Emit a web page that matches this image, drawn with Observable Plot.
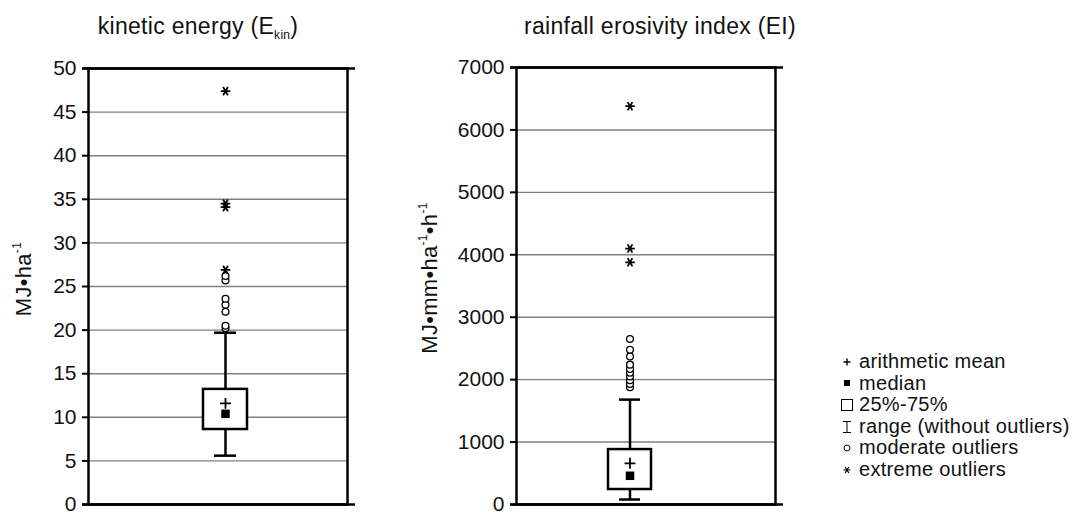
<!DOCTYPE html>
<html><head><meta charset="utf-8">
<script src="https://cdn.jsdelivr.net/npm/d3@7"></script>
<script src="https://cdn.jsdelivr.net/npm/@observablehq/plot@0.6"></script>
<style>
body{margin:0;background:#fff;font-family:"Liberation Sans",Arial,sans-serif;color:#111;}
#root{position:relative;width:1078px;height:512px;overflow:hidden;background:#fff;}
.abs{position:absolute;white-space:nowrap;}
.title{font-size:23px;letter-spacing:0.3px;transform:translate(-50%,-50%);}
.title sub{font-size:12px;vertical-align:-5px;line-height:0;}
.ylab{font-size:22px;letter-spacing:0.3px;transform:translate(-50%,-50%) rotate(-90deg);}
.ylab sup{font-size:12px;vertical-align:10px;line-height:0;}
.legend{font-size:20px;line-height:21.6px;letter-spacing:0.3px;}
.legend div{display:flex;align-items:center;height:21.6px;}
.legend svg{width:14px;height:14px;margin-right:5px;flex:none;}
</style></head><body><div id="root"></div>
<script>
// ---- data ----
const series = ["Ekin", "EI"];
const q1 = [8.6, 240];
const q3 = [13.2, 880];
const median = [10.4, 460];
const mean = [11.6, 660];
const whiskerLow = [5.6, 80];
const whiskerHigh = [19.7, 1680];
const moderateEkin = [20.2, 20.5, 22.1, 22.9, 23.6, 25.7, 26.2];
const extremeEkin = [26.9, 34.1, 34.5, 47.4];
const moderateEI = [1880, 1930, 1990, 2050, 2110, 2170, 2240, 2370, 2480, 2650];
const extremeEI = [3880, 4100, 6380];
const ticksEkin = [0, 5, 10, 15, 20, 25, 30, 35, 40, 45, 50];
const ticksEI = [0, 1000, 2000, 3000, 4000, 5000, 6000, 7000];

const root = document.getElementById("root");

function panel(i, moderate, extreme, ticks, o) {
  const name = series[i];
  const one = [0];
  return Plot.plot({
    width: o.width, height: 512,
    marginLeft: o.ml, marginRight: o.mr, marginTop: o.mt, marginBottom: 8,
    style: {fontFamily: "Liberation Sans, Arial, sans-serif", background: "transparent", overflow: "visible"},
    x: {type: "band", domain: [name], paddingInner: 0, paddingOuter: o.po, align: o.align, axis: null},
    y: {domain: [ticks[0], ticks[ticks.length - 1]], label: null},
    marks: [
      Plot.gridY(ticks, {stroke: "#808080", strokeOpacity: 1, strokeWidth: 1.4}),
      Plot.ruleX(one, {x: () => name, y1: () => whiskerLow[i], y2: () => whiskerHigh[i], strokeWidth: 2.5, stroke: "black"}),
      Plot.tickY([whiskerLow[i], whiskerHigh[i]], {x: () => name, y: d => d, insetLeft: 11, insetRight: 11, strokeWidth: 2.5, stroke: "black"}),
      Plot.barY(one, {x: () => name, y1: () => q1[i], y2: () => q3[i], fill: "white", stroke: "black", strokeWidth: 2.5}),
      Plot.dot(one, {x: () => name, y: () => mean[i], symbol: "plus", r: 3.6, stroke: "black", strokeWidth: 1.8}),
      Plot.dot(one, {x: () => name, y: () => median[i], symbol: "square", r: 4.8, fill: "black", stroke: "none"}),
      Plot.dot(moderate, {x: () => name, y: d => d, symbol: "circle", r: 3.4, fill: "white", stroke: "black", strokeWidth: 1.3}),
      Plot.dot(extreme, {x: () => name, y: d => d, symbol: "asterisk", rotate: 90, r: 4.5, stroke: "black", strokeWidth: 1.8}),
      Plot.frame({stroke: "black", strokeWidth: 2.5}),
      Plot.ruleY([ticks[0], ticks[ticks.length - 1]], {insetLeft: -6, insetRight: -8, stroke: "black", strokeWidth: 2.5}),
      Plot.axisY(ticks, {tickSize: 6, tickPadding: 6, fontSize: 21, strokeWidth: 2, stroke: "black", fill: "#111", label: null, tickFormat: d3.format("d")})
    ]
  });
}

const left = panel(0, moderateEkin, extremeEkin, ticksEkin, {width: 380, ml: 88, mr: 33, mt: 68, po: 2.378, align: 0.535});
left.style.position = "absolute"; left.style.left = "0px"; left.style.top = "0px";
root.appendChild(left);

const right = panel(1, moderateEI, extremeEI, ticksEI, {width: 400, ml: 116, mr: 25, mt: 67, po: 2.51, align: 0.426});
right.style.position = "absolute"; right.style.left = "400px"; right.style.top = "0px";
root.appendChild(right);

function addHTML(html, cls, x, y) {
  const d = document.createElement("div");
  d.className = "abs " + cls;
  d.style.left = x + "px"; d.style.top = y + "px";
  d.innerHTML = html;
  root.appendChild(d);
  return d;
}
addHTML("kinetic energy (E<sub>kin</sub>)", "title", 198, 26);
addHTML("rainfall erosivity index (EI)", "title", 660, 26);
addHTML("MJ•ha<sup>-1</sup>", "ylab", 24, 279);
addHTML("MJ•mm•ha<sup>-1</sup>•h<sup>-1</sup>", "ylab", 430, 278);

const legendItems = [
  ["+", "arithmetic mean"],
  ["■", "median"],
  ["□", "25%-75%"],
  ["I", "range (without outliers)"],
  ["o", "moderate outliers"],
  ["*", "extreme outliers"]
];
const icons = {
  "+": '<path d="M7 3.5V10.5M3.5 7H10.5" stroke="black" stroke-width="1.4"/>',
  "■": '<rect x="4" y="4" width="6" height="6" fill="black"/>',
  "□": '<rect x="1.5" y="1.5" width="11" height="11" fill="none" stroke="black" stroke-width="1"/>',
  "I": '<path d="M3 1.5H11M3 12.5H11M7 1.5V12.5" stroke="black" stroke-width="1"/>',
  "o": '<circle cx="7" cy="7" r="3" fill="none" stroke="black" stroke-width="1"/>',
  "*": '<path d="M3.5 7H10.5M5.2 4L8.8 10M8.8 4L5.2 10" stroke="black" stroke-width="1.2"/>'
};
addHTML(legendItems.map(([k, t]) => `<div><svg viewBox="0 0 14 14">${icons[k]}</svg><span>${t}</span></div>`).join(""), "legend", 840, 351);
</script>
</body></html>
